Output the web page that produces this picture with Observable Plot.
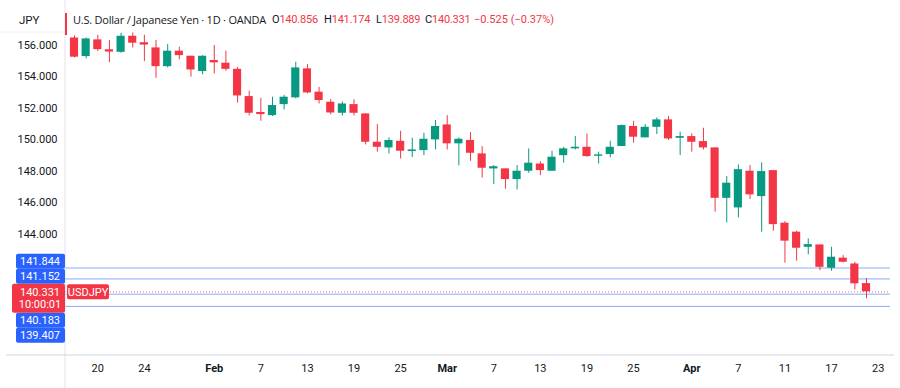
<!DOCTYPE html>
<html><head><meta charset="utf-8">
<script src="https://cdn.jsdelivr.net/npm/d3@7"></script>
<script src="https://cdn.jsdelivr.net/npm/@observablehq/plot@0.6"></script>
<style>
body{margin:0;background:#fff;}
#wrap{position:relative;width:900px;height:388px;font-family:Roboto,"Noto Sans",sans-serif;color:#131722;overflow:hidden;}
.seg{position:absolute;top:12px;white-space:pre;line-height:16px;font-size:11px;letter-spacing:-0.2px;}
.r{color:#f23645;}
#ttl{font-family:"Open Sans",Roboto,sans-serif;font-size:11px;letter-spacing:0;}
#chg{font-size:11px;letter-spacing:0;}
#sym{position:absolute;left:19px;top:12px;font-size:11.5px;line-height:16px;}
</style></head>
<body>
<div id="wrap"><div id="chart"></div><div id="sym">JPY</div><div id="legend"></div></div>
<script>
const dates = ["2025-01-16","2025-01-17","2025-01-20","2025-01-21","2025-01-22","2025-01-23","2025-01-24","2025-01-27","2025-01-28","2025-01-29","2025-01-30","2025-01-31","2025-02-03","2025-02-04","2025-02-05","2025-02-06","2025-02-07","2025-02-10","2025-02-11","2025-02-12","2025-02-13","2025-02-14","2025-02-17","2025-02-18","2025-02-19","2025-02-20","2025-02-21","2025-02-24","2025-02-25","2025-02-26","2025-02-27","2025-02-28","2025-03-03","2025-03-04","2025-03-05","2025-03-06","2025-03-07","2025-03-10","2025-03-11","2025-03-12","2025-03-13","2025-03-14","2025-03-17","2025-03-18","2025-03-19","2025-03-20","2025-03-21","2025-03-24","2025-03-25","2025-03-26","2025-03-27","2025-03-28","2025-03-31","2025-04-01","2025-04-02","2025-04-03","2025-04-04","2025-04-07","2025-04-08","2025-04-09","2025-04-10","2025-04-11","2025-04-14","2025-04-15","2025-04-16","2025-04-17","2025-04-18","2025-04-21","2025-04-22"];
const opens  = [156.45,155.27,156.33,155.69,155.54,156.56,156.14,155.82,154.63,155.61,155.29,154.32,155.02,154.85,154.46,152.73,151.71,151.52,152.22,152.65,154.49,153.01,152.37,151.67,152.22,151.63,149.83,149.47,149.89,149.24,149.30,149.98,150.93,149.73,149.94,149.09,148.20,148.14,147.46,147.99,148.45,147.99,148.98,149.41,149.51,148.94,149.05,149.56,150.83,150.11,150.78,151.25,150.08,150.19,149.87,149.47,146.27,145.66,147.99,146.38,148.03,144.69,144.12,143.16,143.31,141.83,142.47,142.10,140.856];
const highs  = [156.58,156.45,156.62,156.29,156.75,156.77,156.62,156.29,156.03,155.86,155.29,155.33,155.97,155.61,154.59,153.07,152.62,152.69,152.81,154.91,154.76,153.32,152.54,152.39,152.52,151.63,150.95,150.11,150.53,150.08,150.40,151.21,151.52,150.11,150.44,149.55,148.35,148.14,148.35,149.41,148.60,149.26,149.51,150.19,150.36,149.20,149.89,150.93,151.16,150.95,151.38,151.46,150.47,150.36,150.72,149.47,147.65,148.39,148.35,148.52,148.03,144.79,144.18,143.69,143.31,143.16,142.63,142.21,141.174];
const lows   = [155.18,155.12,155.59,154.89,155.48,155.82,154.95,153.89,154.55,155.06,153.96,154.11,154.17,154.34,152.31,151.50,151.16,151.46,151.88,152.58,152.90,152.26,151.57,151.50,151.50,149.66,149.20,149.09,148.77,148.86,148.98,149.34,149.34,148.33,148.62,147.55,147.14,146.85,146.80,147.86,147.71,147.99,148.50,149.34,148.88,148.45,148.84,149.56,149.77,150.11,150.32,149.94,148.98,149.20,149.34,145.39,144.71,145.03,146.19,144.12,144.18,142.15,142.28,142.68,141.68,141.64,142.17,140.46,139.889];
const closes = [155.23,156.39,155.71,155.61,156.56,156.12,156.05,154.63,155.61,155.33,154.42,155.29,154.87,154.46,152.77,151.67,151.65,152.16,152.69,154.55,152.96,152.48,151.69,152.26,151.67,149.83,149.51,149.94,149.26,149.34,150.02,150.83,149.73,150.02,149.13,148.18,148.26,147.46,147.99,148.50,148.03,148.88,149.41,149.51,148.92,149.03,149.51,150.89,150.15,150.78,151.25,150.04,150.19,149.83,149.47,146.27,147.23,148.09,146.49,147.97,144.60,143.55,143.10,143.33,141.89,142.53,142.21,140.84,140.331];

const yTicks = [144,146,148,150,152,154,156];
const tickDates  = ["2025-01-20","2025-01-24","2025-02-03","2025-02-07","2025-02-13","2025-02-19","2025-02-25","2025-03-03","2025-03-07","2025-03-13","2025-03-19","2025-03-25","2025-04-01","2025-04-07","2025-04-11","2025-04-17","2025-04-23"];
const tickLabels = ["20","24","Feb","7","13","19","25","Mar","7","13","19","25","Apr","7","11","17","23"];
const monthLabels = ["Feb","Mar","Apr"];

const levels = [141.844, 141.152, 140.183, 139.407];
const lastPrice = 140.331;
const countdown = "10:00:01";
const symbolTag = "USDJPY";
const title = "U.S. Dollar / Japanese Yen · 1D · OANDA";
const ohlc = [["O","140.856"],["H","141.174"],["L","139.889"],["C","140.331"]];
const change = "\u22120.525 (\u22120.37%)";

const GREEN = "#089981", RED = "#f23645", BLUE = "#2962ff";

const data = dates.map((d, i) => ({i, date: d, open: opens[i], high: highs[i], low: lows[i], close: closes[i],
  color: closes[i] >= opens[i] ? GREEN : RED}));
const idxOf = d => { const k = dates.indexOf(d); return k >= 0 ? k : dates.length; };
const ticks = tickDates.map((d, k) => ({i: idxOf(d), label: tickLabels[k]}));
const dayTicks = ticks.filter(t => !monthLabels.includes(t.label));
const monTicks = ticks.filter(t => monthLabels.includes(t.label));
const labelOf = i => (ticks.find(t => t.i === i) || {}).label;

const W = 900, H = 388, mL = 65, mR = 10, mB = 33, mT = 0;
const step = 11.647, firstX = 74;
const xDomain = [(mL - firstX) / step, (W - mR - firstX) / step];
const hw = 0.35;

const chart = Plot.plot({
  width: W, height: H,
  marginLeft: mL, marginRight: mR, marginTop: mT, marginBottom: mB,
  style: {fontFamily: "Roboto, 'Noto Sans', sans-serif", fontSize: "11px", color: "#131722", background: "#fff"},
  x: {type: "linear", domain: xDomain},
  y: {domain: [136.29, 158.83]},
  color: {type: "identity"},
  marks: [
    Plot.ruleY(levels, {y: d => d, stroke: BLUE, strokeOpacity: 0.55}),
    Plot.ruleY([lastPrice], {y: d => d, stroke: RED, strokeOpacity: 0.7, strokeDasharray: "1,2"}),
    Plot.ruleX(data, {x: "i", y1: "low", y2: "high", stroke: "color", strokeWidth: 1}),
    Plot.rect(data, {x1: d => d.i - hw, x2: d => d.i + hw, y1: "open", y2: "close", fill: "color"}),
    Plot.ruleY(data.filter(d => Math.abs(d.open - d.close) < 0.09), {y: d => (d.open + d.close) / 2, x1: d => d.i - hw, x2: d => d.i + hw, stroke: "color", strokeWidth: 2}),
    Plot.axisY(yTicks, {tickFormat: d => d.toFixed(3), tickSize: 0, tickPadding: 8, label: null, fontSize: 11}),
    Plot.axisX(dayTicks.map(t => t.i), {tickFormat: labelOf, tickSize: 0, tickPadding: 9, label: null, fontSize: 11}),
    Plot.axisX(monTicks.map(t => t.i), {tickFormat: labelOf, tickSize: 0, tickPadding: 9, label: null, fontSize: 11, fontWeight: "bold"})
  ]
});
document.getElementById("chart").appendChild(chart);

// legend line (segments laid out left to right)
const lg = document.getElementById("legend");
const segLeft = [73, 272, 324, 376, 425, 474];
let html = `<span class="seg" id="ttl" style="left:${segLeft[0]}px">${title}</span>`;
ohlc.forEach(([k, v], j) => { html += `<span class="seg" style="left:${segLeft[j + 1]}px">${k}<span class="r">${v}</span></span>`; });
html += `<span class="seg r" id="chg" style="left:${segLeft[5]}px">${change}</span>`;
lg.innerHTML = html;
const ttl = document.getElementById("ttl");
const fitTitle = () => {
  ttl.style.letterSpacing = "0px";
  const w = ttl.getBoundingClientRect().width;
  const target = segLeft[1] - segLeft[0] - 6;
  ttl.style.letterSpacing = ((target - w) / title.length).toFixed(2) + "px";
};
fitTitle();
if (document.fonts && document.fonts.ready) document.fonts.ready.then(fitTitle);

// frame lines and price labels
const svg = d3.select(chart);
const ys = chart.scale("y");
const frameBottom = H - mB;
const g = svg.append("g");
g.append("line").attr("x1", mL).attr("x2", mL).attr("y1", 0).attr("y2", H).attr("stroke", "#e0e3eb");
g.append("line").attr("x1", 6).attr("x2", W - 6).attr("y1", frameBottom).attr("y2", frameBottom).attr("stroke", "#d1d4dc");
g.append("line").attr("x1", 0).attr("x2", mL).attr("y1", 32).attr("y2", 32).attr("stroke", "#eef0f4");
g.append("rect").attr("x", mL).attr("y", 13).attr("width", 2).attr("height", 22).attr("fill", RED);

const boxH = 15;
const mainY = ys.apply(lastPrice);
const mainTop = mainY - 7.5, mainBot = mainTop + 2 * boxH - 1;
const above = levels.filter(v => v > lastPrice).sort((a, b) => a - b);
const below = levels.filter(v => v < lastPrice).sort((a, b) => b - a);
const placed = [];
let lim = mainTop;
above.forEach(v => { let t = ys.apply(v) - boxH / 2; if (t + boxH > lim) t = lim - boxH; placed.push({v, t}); lim = t; });
lim = mainBot;
below.forEach(v => { let t = ys.apply(v) - boxH / 2; if (t < lim) t = lim; placed.push({v, t}); lim = t + boxH; });
placed.forEach(p => {
  g.append("rect").attr("x", 16).attr("y", p.t).attr("width", mL - 16).attr("height", boxH).attr("rx", 2).attr("fill", BLUE);
  g.append("text").attr("x", 40).attr("y", p.t + boxH / 2).attr("dy", "0.35em").attr("text-anchor", "middle")
    .attr("fill", "#fff").attr("font-size", 11).text(p.v.toFixed(3));
});
g.append("rect").attr("x", 12).attr("y", mainTop).attr("width", mL - 12).attr("height", mainBot - mainTop).attr("rx", 2).attr("fill", RED);
g.append("text").attr("x", 40).attr("y", mainY + 0.5).attr("dy", "0.35em").attr("text-anchor", "middle").attr("fill", "#fff").attr("font-size", 11).text(lastPrice.toFixed(3));
g.append("text").attr("x", 40).attr("y", mainY + 13).attr("dy", "0.35em").attr("text-anchor", "middle").attr("fill", "#fff").attr("font-size", 11).text(countdown);
g.append("rect").attr("x", mL + 2).attr("y", mainY - 7).attr("width", 42).attr("height", 15).attr("rx", 2).attr("fill", RED);
g.append("text").attr("x", mL + 23).attr("y", mainY + 0.5).attr("dy", "0.35em").attr("text-anchor", "middle").attr("fill", "#fff").attr("font-size", 11).text(symbolTag);
</script>
</body></html>
